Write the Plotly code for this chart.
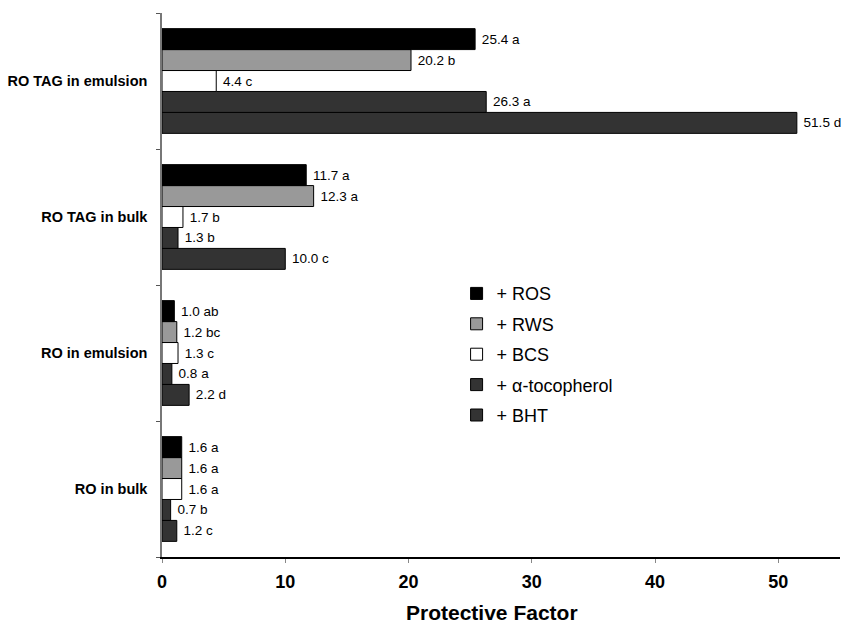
import plotly.graph_objects as go

categories = ["RO in bulk", "RO in emulsion", "RO TAG in bulk", "RO TAG in emulsion"]
series_names = ["+ ROS", "+ RWS", "+ BCS", "+ α-tocopherol", "+ BHT"]
ros = [1.6, 1.0, 11.7, 25.4]
rws = [1.6, 1.2, 12.3, 20.2]
bcs = [1.6, 1.3, 1.7, 4.4]
atoc = [0.7, 0.8, 1.3, 26.3]
bht = [1.2, 2.2, 10.0, 51.5]
ros_lbl = ["1.6 a", "1.0 ab", "11.7 a", "25.4 a"]
rws_lbl = ["1.6 a", "1.2 bc", "12.3 a", "20.2 b"]
bcs_lbl = ["1.6 a", "1.3 c", "1.7 b", "4.4 c"]
atoc_lbl = ["0.7 b", "0.8 a", "1.3 b", "26.3 a"]
bht_lbl = ["1.2 c", "2.2 d", "10.0 c", "51.5 d"]
colors = ["#000000", "#999999", "#ffffff", "#333333", "#333333"]

values = [ros, rws, bcs, atoc, bht]
labels = [ros_lbl, rws_lbl, bcs_lbl, atoc_lbl, bht_lbl]

FONT = "Liberation Sans, Arial, sans-serif"

fig = go.Figure()
# add in reverse so ROS is on top within each group
for i in reversed(range(5)):
    fig.add_trace(go.Bar(
        y=categories, x=values[i], orientation="h", name=series_names[i],
        legendgroup=series_names[i], legendrank=i + 1,
        marker=dict(color=colors[i], line=dict(color="#000000", width=1)),
        text=labels[i], texttemplate=" %{text}", textposition="outside",
        constraintext="none",
        textfont=dict(family=FONT, size=13.5, color="#000"),
        cliponaxis=False,
    ))

fig.update_layout(
    width=843, height=623,
    margin=dict(l=162, r=3, t=13, b=66, autoexpand=False),
    plot_bgcolor="white", paper_bgcolor="white",
    barmode="group", bargap=0.23, bargroupgap=0,
    font=dict(family=FONT, color="#000"),
    legend=dict(x=0.4345, y=0.518, xanchor="left", yanchor="top",
                traceorder="grouped", tracegroupgap=4,
                font=dict(size=18, family=FONT),
                bgcolor="rgba(0,0,0,0)", itemwidth=30),
    xaxis=dict(range=[0, 55], tickvals=[0, 10, 20, 30, 40, 50],
               showline=True, linecolor="#000", linewidth=1.5,
               ticks="outside", ticklen=4, tickcolor="#888",
               showgrid=False, zeroline=False, automargin=False,
               tickfont=dict(size=18, family=FONT, weight="bold"),
               ticklabelstandoff=4),
    yaxis=dict(categoryorder="array", categoryarray=categories,
               showline=True, linecolor="#777", linewidth=1.5,
               ticks="outside", ticklen=4, tickcolor="#555", tickson="boundaries",
               showgrid=False, zeroline=False, automargin=False,
               tickfont=dict(size=14.5, family=FONT, weight="bold"),
               ticklabelstandoff=10),
    annotations=[dict(text="<b>Protective Factor</b>", xref="paper", yref="paper",
                      x=(492 - 162) / 678, y=0, yshift=-42, xanchor="center", yanchor="top",
                      showarrow=False, font=dict(size=21, family=FONT))],
)

fig.write_html("out.html", config={"displayModeBar": False},
               post_script="document.body.style.margin='0';document.body.style.overflow='hidden';")
